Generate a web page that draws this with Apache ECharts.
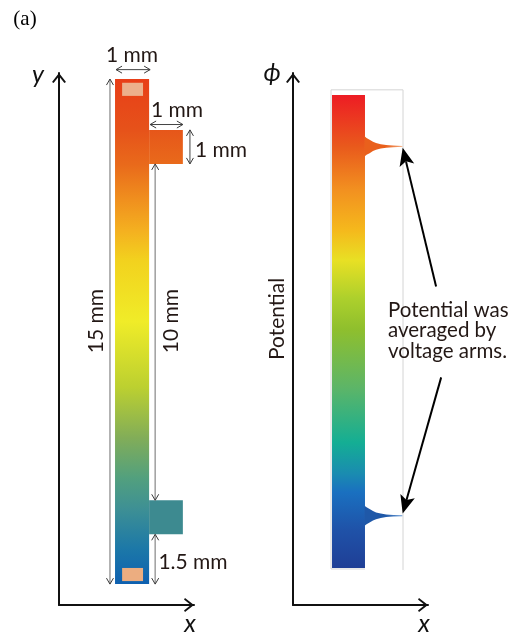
<!DOCTYPE html>
<html>
<head>
<meta charset="utf-8">
<style>html,body{margin:0;padding:0;background:#fff}#c{width:512px;height:636px}</style>
<script src="https://cdn.jsdelivr.net/npm/echarts@6/dist/echarts.min.js"></script>
</head>
<body>
<div id="c"></div>
<script>
// ---- Geometry of the specimen, in millimetres ----
const deviceBody   = [[1.66,0.62],[2.67,0.62],[2.67,15.62],[1.66,15.62]];
const upperArm     = [[2.67,13.10],[3.67,13.10],[3.67,14.11],[2.67,14.11]];
const lowerArm     = [[2.67,2.10],[3.67,2.10],[3.67,3.11],[2.67,3.11]];
const upperPad     = [[1.87,15.12],[2.49,15.12],[2.49,15.51],[1.87,15.51]];
const lowerPad     = [[1.87,0.71],[2.49,0.71],[2.49,1.10],[1.87,1.10]];
// [x1, y1, x2, y2] double-headed dimension arrows
const dimensionsDark = [[1.69,15.9,2.70,15.9],[2.70,14.27,3.67,14.27],[3.88,14.11,3.88,13.10]];
const dimensionsGrey = [[1.51,15.62,1.51,0.62],[2.85,13.10,2.85,3.11],[2.85,2.10,2.85,0.62]];
// ---- Potential map, in the same units ----
const potentialBody  = [[1.156,1.10],[2.133,1.10],[2.133,15.15],[1.156,15.15]];
const potentialFrame = [[2.133,1.07],[1.126,1.07],[1.126,15.30],[3.26,15.30],[3.26,1.04]];
const spikeOffsets   = [0,0.06,0.15,0.25,0.34,0.48,0.64,0.85,1.12];
const spikeHalfWidth = [0.30,0.25,0.20,0.14,0.10,0.065,0.04,0.025,0.014];
const spikeCentres   = [13.62,2.65];
// [x1, y1, x2, y2] call-out arrows from the note to the spike tips
const calloutArrows  = [[4.24,9.46,3.25,13.58],[4.39,6.76,3.25,2.72]];
// ---- Text ----
const panelLabel = '(a)';
const dimensionLabels = ['1 mm','1 mm','1 mm','15 mm','10 mm','1.5 mm'];
const potentialLabel = 'Potential';
const noteLines = ['Potential was','averaged by','voltage arms.'];
const axisNames = ['x','y','x','\u03d5'];
// ---- Colour ramps: [position, colour] ----
const deviceRamp = [[0,'#e83e18'],[0.10,'#e6521a'],[0.17,'#e96a1b'],[0.24,'#f0901e'],[0.30,'#f4b020'],[0.36,'#f2d21e'],[0.48,'#f0ec28'],[0.61,'#bcd030'],[0.71,'#82ad58'],[0.79,'#52a07e'],[0.85,'#3e9094'],[0.93,'#1c78a8'],[1,'#0e60b0']];
const potentialRamp = [[0,'#ed1c24'],[0.11,'#e95a1c'],[0.20,'#f29020'],[0.285,'#f5b81c'],[0.35,'#e8e024'],[0.43,'#add02c'],[0.495,'#8fbf2d'],[0.62,'#5cb568'],[0.735,'#14ae94'],[0.80,'#1a8cb0'],[0.84,'#1a70c0'],[0.92,'#1f52a8'],[1,'#1f3f96']];

const G = echarts.graphic;
const ramp = s => new G.LinearGradient(0,0,0,1,s.map(d=>({offset:d[0],color:d[1]})));
const axisFont = 'Lato, "Open Sans", sans-serif';
const chevron = 'path://M7 0L14 9L12.4 10L7 3.2L1.6 10L0 9Z';

function polySeries(g, pts, fill, z){
  return {type:'custom',coordinateSystem:'cartesian2d',xAxisIndex:g,yAxisIndex:g,silent:true,z:z,
    data:pts,encode:{x:0,y:1},
    renderItem:(p,api)=>p.dataIndex===0?{type:'polygon',shape:{points:pts.map(q=>api.coord(q))},style:{fill:fill}}:null};
}
function frameSeries(g, pts){
  return {type:'custom',coordinateSystem:'cartesian2d',xAxisIndex:g,yAxisIndex:g,silent:true,z:1,
    data:pts,encode:{x:0,y:1},
    renderItem:(p,api)=>p.dataIndex===0?{type:'polyline',shape:{points:pts.map(q=>api.coord(q))},style:{stroke:'#d4d4d4',lineWidth:1,fill:null}}:null};
}
function head(tip,ang,len,wid){
  const c=Math.cos(ang),s=Math.sin(ang);
  return [[tip[0]-len*c-wid*s,tip[1]-len*s+wid*c],tip,[tip[0]-len*c+wid*s,tip[1]-len*s-wid*c]];
}
function dimSeries(g, rows, color, width){
  return {type:'custom',coordinateSystem:'cartesian2d',xAxisIndex:g,yAxisIndex:g,silent:true,z:5,
    data:rows,encode:{x:[0,2],y:[1,3]},
    renderItem:(p,api)=>{
      const a=api.coord([api.value(0),api.value(1)]),b=api.coord([api.value(2),api.value(3)]);
      const t=Math.atan2(b[1]-a[1],b[0]-a[0]);
      const st={stroke:'#3a3a3a',lineWidth:1,fill:null};
      return {type:'group',children:[
        {type:'line',shape:{x1:a[0],y1:a[1],x2:b[0],y2:b[1]},style:{stroke:color,lineWidth:width}},
        {type:'polyline',shape:{points:head(b,t,6,3.5)},style:st},
        {type:'polyline',shape:{points:head(a,t+Math.PI,6,3.5)},style:st}
      ]};
    }};
}
function calloutSeries(g, rows){
  return {type:'custom',coordinateSystem:'cartesian2d',xAxisIndex:g,yAxisIndex:g,silent:true,z:6,
    data:rows,encode:{x:[0,2],y:[1,3]},
    renderItem:(p,api)=>{
      const a=api.coord([api.value(0),api.value(1)]),b=api.coord([api.value(2),api.value(3)]);
      const t=Math.atan2(b[1]-a[1],b[0]-a[0]),c=Math.cos(t),s=Math.sin(t);
      const L=18,W=7.5,N=14;
      const pts=[b,[b[0]-L*c-W*s,b[1]-L*s+W*c],[b[0]-N*c,b[1]-N*s],[b[0]-L*c+W*s,b[1]-L*s-W*c]];
      return {type:'group',children:[
        {type:'line',shape:{x1:a[0],y1:a[1],x2:b[0]-N*c,y2:b[1]-N*s},style:{stroke:'#000',lineWidth:2}},
        {type:'polygon',shape:{points:pts},style:{fill:'#000'}}
      ]};
    }};
}
function spikePoints(centre){
  const up=spikeOffsets.map((d,i)=>[2.12+d,centre+spikeHalfWidth[i]]);
  const dn=spikeOffsets.map((d,i)=>[2.12+d,centre-spikeHalfWidth[i]]).reverse();
  return up.concat(dn);
}
const spikeFill=(a,b)=>new G.LinearGradient(0,0,1,0,[{offset:0,color:a},{offset:0.55,color:a},{offset:1,color:b}]);

const axisLine={show:true,onZero:false,symbol:['none',chevron],symbolSize:[14,10],symbolOffset:[0,-5],lineStyle:{color:'#111',width:2}};
const hidden={axisTick:{show:false},axisLabel:{show:false},splitLine:{show:false}};
const nameX={fontFamily:axisFont,fontStyle:'italic',fontSize:25,color:'#111'};
function xA(g,name){return Object.assign({type:'value',gridIndex:g,min:0,max:4,name:name,nameLocation:'end',nameGap:0,
  nameTextStyle:Object.assign({},nameX,{align:'center',verticalAlign:'top',padding:[6,8,0,0]}),axisLine:axisLine},hidden);}
function yA(g,name,pad){return Object.assign({type:'value',gridIndex:g,min:0,max:15.8,name:name,nameLocation:'end',nameGap:0,
  nameTextStyle:Object.assign({},nameX,{padding:pad}),axisLine:axisLine},hidden);}

function txt(text,x,y,size,extra){
  return Object.assign({type:'text',x:x,y:y,silent:true,z:20,
    style:Object.assign({text:text,font:size+'px Lato, "Open Sans", sans-serif',fill:'#231815',align:'center',verticalAlign:'middle'},extra&&extra.style||{})},
    extra&&extra.el||{});
}
const V={el:{rotation:Math.PI/2}};
const graphics=[
  txt(panelLabel,25,19,21,{style:{font:'21px "Liberation Serif", serif',fill:'#000'}}),
  txt(dimensionLabels[0],132,55,21),
  txt(dimensionLabels[1],177,110,21),
  txt(dimensionLabels[2],221,150,21),
  txt(dimensionLabels[3],96,321,21,V),
  txt(dimensionLabels[4],171,321,21,V),
  txt(dimensionLabels[5],193,562,21),
  txt(potentialLabel,277,319,21,V)
].concat(noteLines.map((t,i)=>txt(t,388,310+i*20.5,20.5,{style:{align:'left'}})));

const option={
  animation:false,backgroundColor:'#fff',
  grid:[{left:59,top:73,width:135,height:534,containLabel:false},{left:293,top:73,width:135,height:534,containLabel:false}],
  xAxis:[xA(0,axisNames[0]),xA(1,axisNames[2])],
  yAxis:[yA(0,axisNames[1],[0,42,-14,0]),yA(1,axisNames[3],[0,42,-12,0])],
  graphic:{elements:graphics},
  series:[
    polySeries(0,deviceBody,ramp(deviceRamp),2),
    polySeries(0,upperArm,new G.LinearGradient(0,0,0,1,[{offset:0,color:'#e6561a'},{offset:1,color:'#e96a1b'}]),2),
    polySeries(0,lowerArm,'#3d8a90',2),
    polySeries(0,upperPad,'#ecb08c',3),
    polySeries(0,lowerPad,'#ecad80',3),
    dimSeries(0,dimensionsDark,'#444',1),
    dimSeries(0,dimensionsGrey,'#a4a4a4',1.6),
    frameSeries(1,potentialFrame),
    polySeries(1,potentialBody,ramp(potentialRamp),2),
    polySeries(1,spikePoints(spikeCentres[0]),spikeFill('#e9601c','#f4a878'),2),
    polySeries(1,spikePoints(spikeCentres[1]),spikeFill('#1f58a8','#6a9cd6'),2),
    calloutSeries(1,calloutArrows)
  ]
};
echarts.init(document.getElementById('c'),null,{renderer:'canvas'}).setOption(option);
</script>
</body>
</html>
